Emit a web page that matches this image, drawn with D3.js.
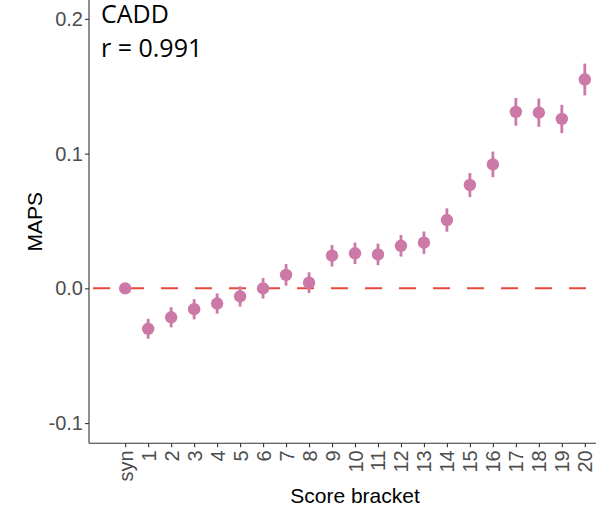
<html>
<head>
    <meta charset="utf-8">
    <title>CADD MAPS</title>
    <style>
        body { margin: 0; background: #fff; }
        .axis text { font-family: "Liberation Sans", Arial, sans-serif; font-size: 20px; fill: #4d4d4d; }
        .axis path, .axis line { stroke: #333; stroke-width: 1.1; }
        .title { font-family: "Liberation Sans", Arial, sans-serif; font-size: 21px; fill: #000; }
        .note { font-family: "Open Sans", sans-serif; font-size: 25px; fill: #000; }
    </style>
</head>
<body>
    <svg width="596" height="516"></svg>
    <script src="https://d3js.org/d3.v7.min.js"></script>
    <script>
        // score brackets, MAPS estimates and their standard errors
        var brackets = ["syn", "1", "2", "3", "4", "5", "6", "7", "8", "9", "10",
            "11", "12", "13", "14", "15", "16", "17", "18", "19", "20"];
        var maps = [0.0, -0.030, -0.0215, -0.0155, -0.0113, -0.006, 0.0, 0.010, 0.0042, 0.0242, 0.026,
            0.0252, 0.0316, 0.0339, 0.0507, 0.0767, 0.092, 0.131, 0.1304, 0.1257, 0.155];
        var se = [0.0, 0.0074, 0.0075, 0.0075, 0.0075, 0.0075, 0.0076, 0.008, 0.0077, 0.008, 0.008,
            0.008, 0.008, 0.0083, 0.0087, 0.0089, 0.0095, 0.0103, 0.0105, 0.0105, 0.0118];
        var yTicks = [-0.1, 0.0, 0.1, 0.2];

        var data = brackets.map(function (b, i) { return { b: b, v: maps[i], e: se[i] }; });

        var svg = d3.select("svg");
        var padL = 89, padR = 621, padT = 0, padB = 443.3;

        var x = d3.scalePoint().domain(brackets).range([padL, padR]).padding(1.575);
        var y = d3.scaleLinear().domain([-0.115, 0.214]).range([padB, padT]);

        // reference line at zero
        svg.append("line")
            .attr("x1", padL).attr("x2", padR)
            .attr("y1", y(0)).attr("y2", y(0))
            .attr("stroke", "#e8473b")
            .attr("stroke-width", 2)
            .attr("stroke-dasharray", "17,17")
            .attr("stroke-dashoffset", -4);

        // error bars
        svg.append("g").selectAll("line")
            .data(data.filter(function (d) { return d.e > 0; }))
            .enter().append("line")
            .attr("x1", function (d) { return x(d.b); })
            .attr("x2", function (d) { return x(d.b); })
            .attr("y1", function (d) { return y(d.v - d.e); })
            .attr("y2", function (d) { return y(d.v + d.e); })
            .attr("stroke", "#cc79a7")
            .attr("stroke-width", 2.8);

        svg.append("g").selectAll("circle")
            .data(data)
            .enter().append("circle")
            .attr("cx", function (d) { return x(d.b); })
            .attr("cy", function (d) { return y(d.v); })
            .attr("r", 6.2)
            .attr("fill", "#cc79a7");

        // axes
        var fmt = d3.format(".1f");
        var yAxis = svg.append("g")
            .attr("class", "axis")
            .attr("transform", "translate(" + padL + ",0)")
            .call(d3.axisLeft(y).tickValues(yTicks)
                .tickFormat(function (d) { return fmt(d).replace("\u2212", "-"); })
                .tickSizeInner(4).tickSizeOuter(0).tickPadding(2));
        yAxis.select(".domain").attr("d", "M0," + padT + "V" + padB);

        var xAxis = svg.append("g")
            .attr("class", "axis")
            .attr("transform", "translate(0," + padB + ")")
            .call(d3.axisBottom(x).tickSizeInner(4).tickSizeOuter(0));
        xAxis.select(".domain").attr("d", "M" + padL + ",0H" + padR);
        xAxis.selectAll("text")
            .attr("transform", "rotate(-90)")
            .attr("x", -7)
            .attr("y", 0)
            .attr("dy", "0.35em")
            .style("text-anchor", "end");

        // axis titles
        svg.append("text")
            .attr("class", "title")
            .attr("transform", "translate(42," + (padT + padB) / 2 + ") rotate(-90)")
            .attr("text-anchor", "middle")
            .text("MAPS");

        svg.append("text")
            .attr("class", "title")
            .attr("x", (padL + padR) / 2)
            .attr("y", 503)
            .attr("text-anchor", "middle")
            .text("Score bracket");

        // annotation
        svg.append("text").attr("class", "note").attr("x", 101).attr("y", 23).text("CADD");
        svg.append("text").attr("class", "note").attr("x", 101).attr("y", 57).text("r = 0.991");
    </script>
</body>
</html>
